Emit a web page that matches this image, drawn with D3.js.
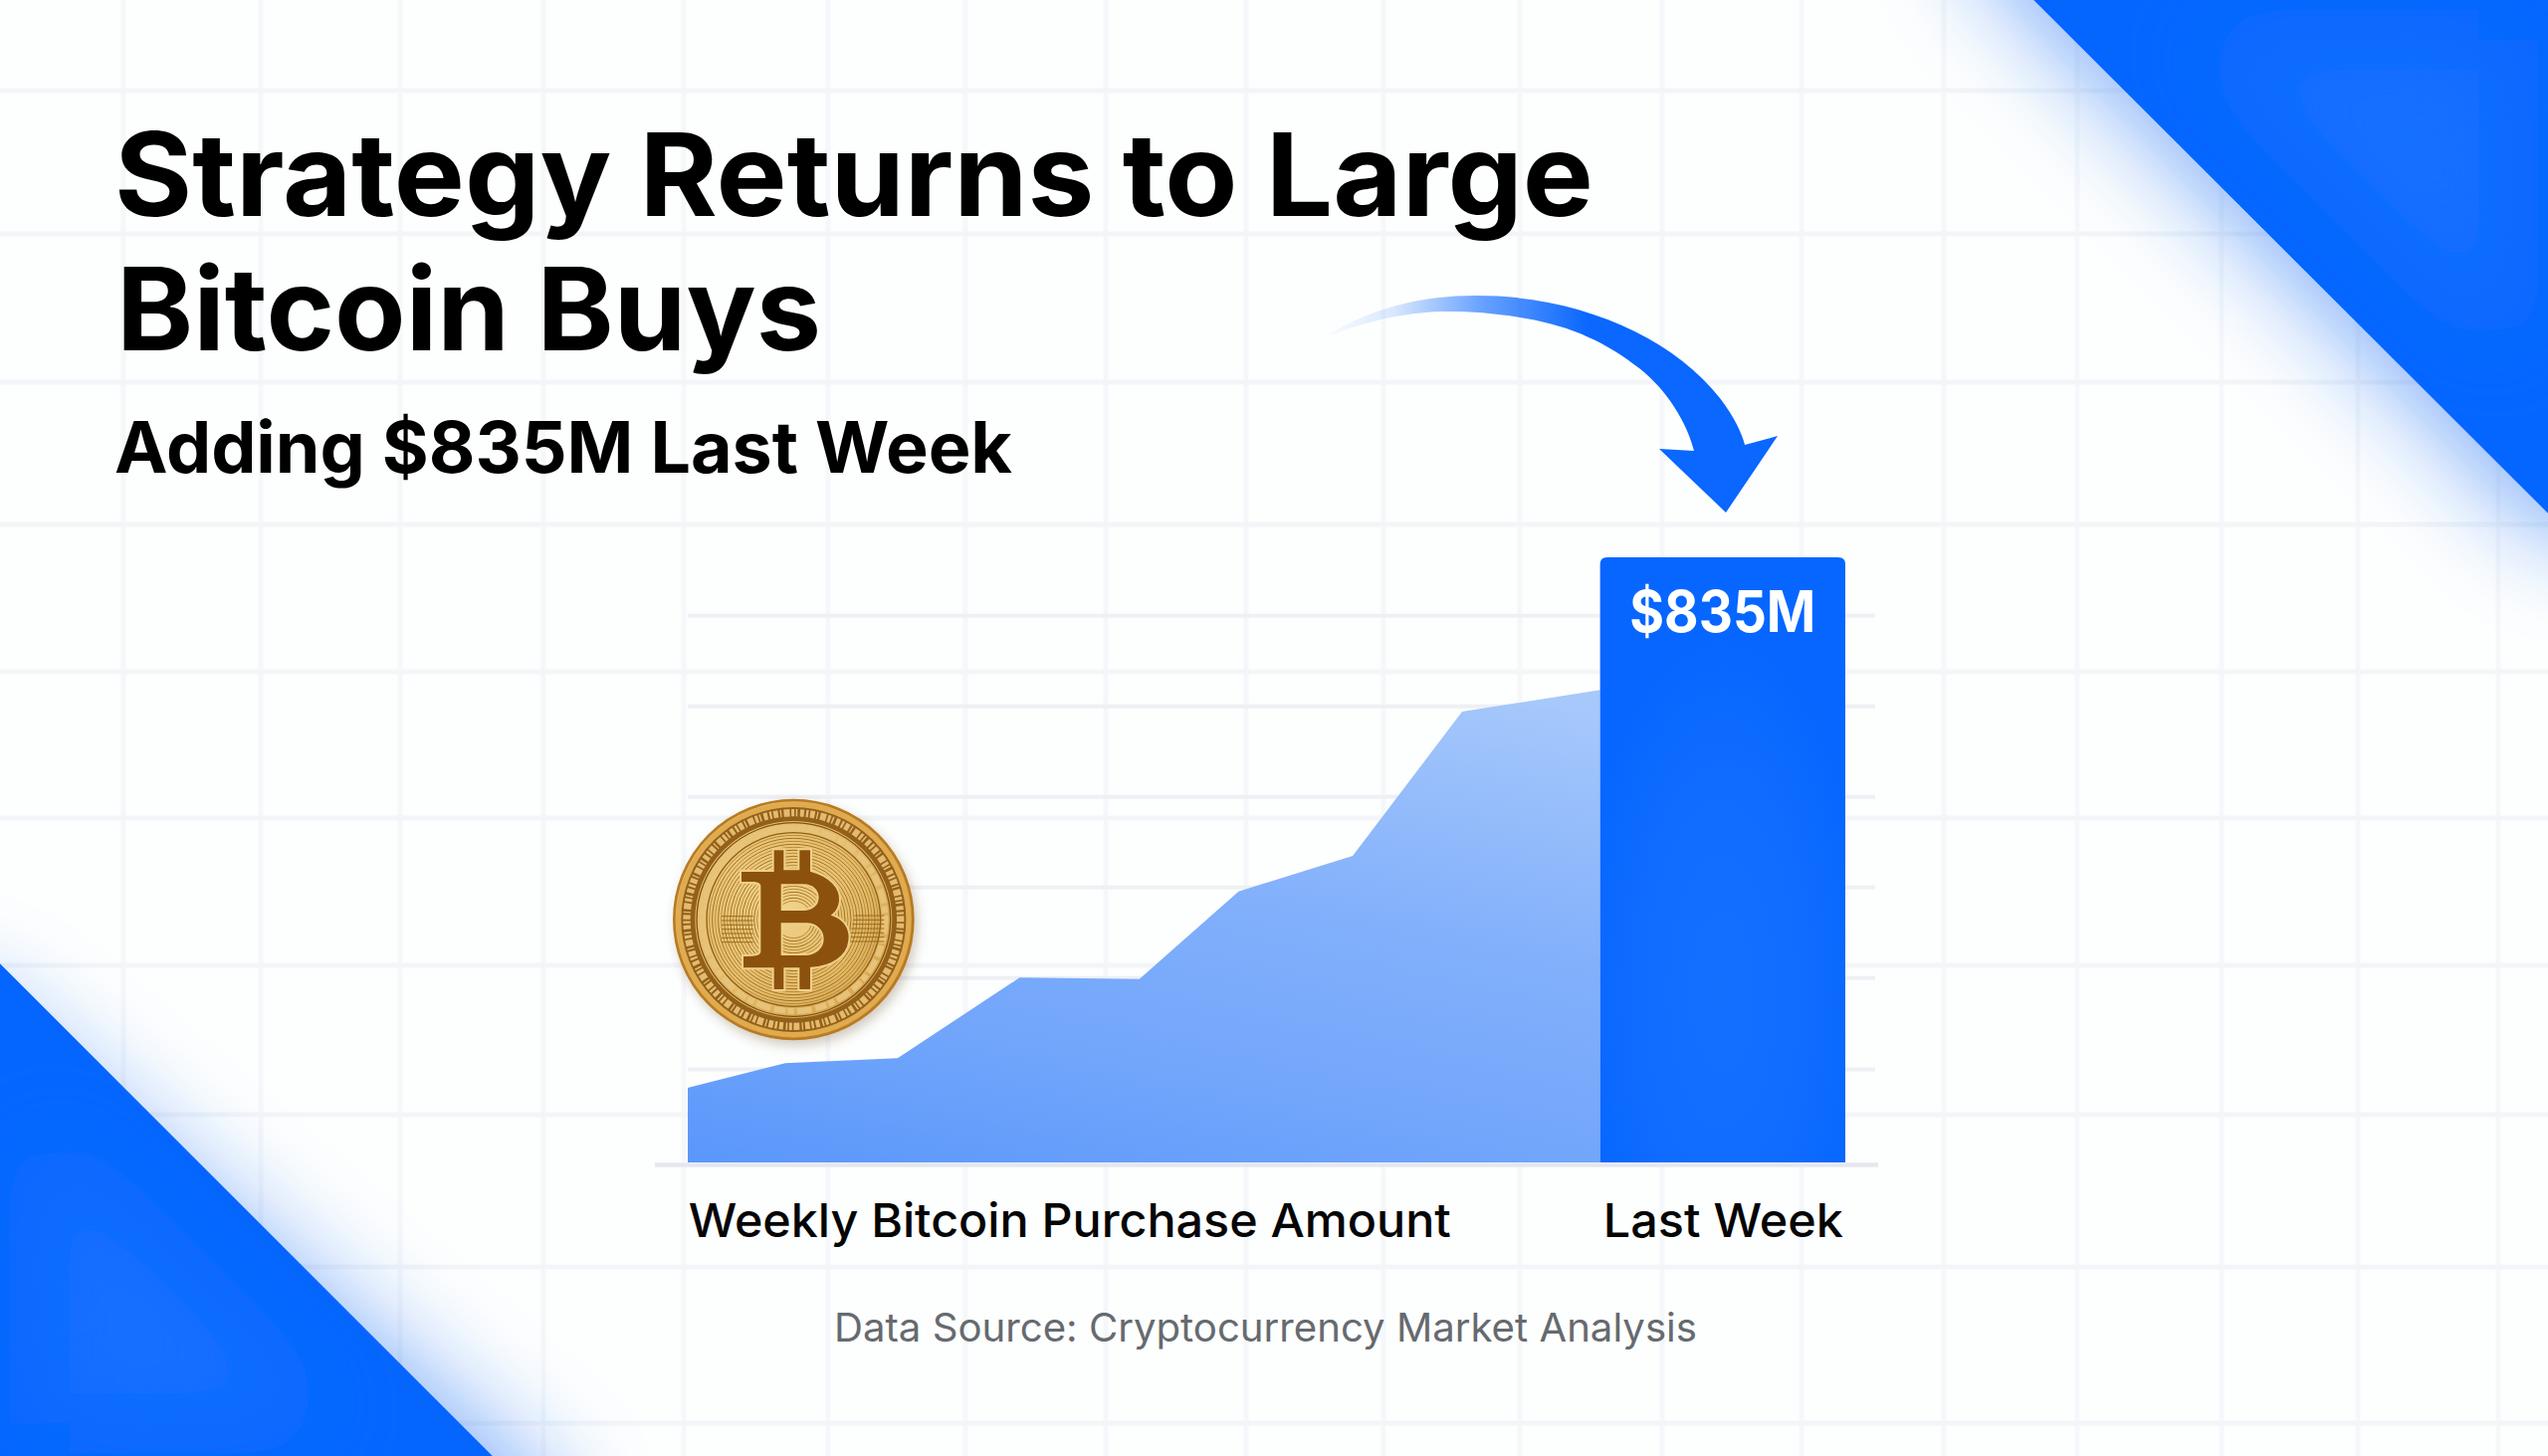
<!DOCTYPE html>
<html><head><meta charset="utf-8">
<script src="https://cdn.jsdelivr.net/npm/d3@7"></script>
<style>html,body{margin:0;padding:0;background:#fdfefe;overflow:hidden}svg{display:block}text{font-family:Inter,"Open Sans",sans-serif}</style>
</head><body><svg id="c" width="2560" height="1463" viewBox="0 0 2560 1463"></svg>
<script>
// ---- data ($M per week) ----
const weekPositions=[0,0.855,1.84,2.91,3.96,4.83,5.83,6.79,8.0];
const weeklyPurchases=[103,137,144,255,253,374,423,622,652];
const lastWeekSpan=[8.0,10.15];
const lastWeekValue=835;
const gridValues=[129,255,380,505,630,755];
const axisTicks=[3.345,9.075];
const axisLabels=["Weekly Bitcoin Purchase Amount","Last Week"];
const titleLines=["Strategy Returns to Large","Bitcoin Buys"];
const subtitle="Adding $835M Last Week";
const barLabel="$835M";
const source="Data Source: Cryptocurrency Market Analysis";
const paperX=[124,262,402,546,687,832,970,1111,1252,1390,1527,1670,1810,1953,2087,2232,2369,2510];
const paperY=[91,235,384,527,675,822,970,1120,1273,1430];

const svg=d3.select("#c"), defs=svg.append("defs");
const x=d3.scaleLinear().domain([0,10.15]).range([691,1854]);
const y=d3.scaleLinear().domain([0,835]).range([1168,560]);

function grad(id,attrs,stops){const g=defs.append("linearGradient").attr("id",id).attr("gradientUnits","userSpaceOnUse");
 Object.entries(attrs).forEach(([k,v])=>g.attr(k,v));
 stops.forEach(s=>g.append("stop").attr("offset",s[0]).attr("stop-color",s[1]).attr("stop-opacity",s[2]===undefined?1:s[2]));}
grad("areaG",{x1:691,y1:1168,x2:821,y2:550},[[0,"#5a97fb"],[.3,"#72a6fb"],[.6,"#82b0fb"],[1,"#a6c8fb"]]);
grad("arrowG",{x1:1325,y1:0,x2:1625,y2:0},[[0,"#0a67ff",0],[.25,"#0a67ff",.15],[.55,"#0a67ff",.62],[.9,"#0a67ff",1],[1,"#0a67ff",1]]);
const rg=defs.append("radialGradient").attr("id","barG").attr("cx",.5).attr("cy",.72).attr("r",.6);
rg.append("stop").attr("offset",0).attr("stop-color","#1370ff");
rg.append("stop").attr("offset",.6).attr("stop-color","#0f6cff");
rg.append("stop").attr("offset",1).attr("stop-color","#0666ff");
const coinG=defs.append("radialGradient").attr("id","coinG").attr("cx",.42).attr("cy",.42).attr("r",.65);
[[0,"#f2d58f"],[.6,"#e4bc6a"],[1,"#c98f34"]].forEach(s=>coinG.append("stop").attr("offset",s[0]).attr("stop-color",s[1]));
const blurU=(id,sd)=>defs.append("filter").attr("id",id).attr("filterUnits","userSpaceOnUse").attr("x",-500).attr("y",-500).attr("width",3560).attr("height",2463).append("feGaussianBlur").attr("stdDeviation",sd);
blurU("glow",50); blurU("inner",45);
const sh=defs.append("filter").attr("id","coinShadow").attr("x","-20%").attr("y","-20%").attr("width","140%").attr("height","140%");
sh.append("feDropShadow").attr("dx",9).attr("dy",16).attr("stdDeviation",16).attr("flood-color","#5a4520").attr("flood-opacity",.28);

// background
svg.append("rect").attr("width",2560).attr("height",1463).attr("fill","#fdfefe");
const paper=svg.append("g");
paper.selectAll("line.v").data(paperX).join("line").attr("class","v").attr("x1",d=>d).attr("x2",d=>d).attr("y1",0).attr("y2",1463).attr("stroke","#f5f7fa").attr("stroke-width",5);
paper.selectAll("line.h").data(paperY).join("line").attr("class","h").attr("y1",d=>d).attr("y2",d=>d).attr("x1",0).attr("x2",2560).attr("stroke","#f3f5f8").attr("stroke-width",5);

// corner triangles with glow
const corners=[{id:"tr",pts:"2043,0 2560,516 2560,0",big:"1985,-400 1985,-40 2560,540 2960,540 2960,-400",inset:"2200,40 2520,360 2520,40"},
               {id:"bl",pts:"0,968 495,1463 0,1463",big:"-400,1000 -20,1000 560,1500 560,1800 -400,1800",inset:"40,1130 340,1430 40,1430"}];
corners.forEach(c=>{
 svg.append("polygon").attr("points",c.big).attr("fill","#1a6ff5").attr("opacity",.55).attr("filter","url(#glow)");
 defs.append("clipPath").attr("id","clip"+c.id).append("polygon").attr("points",c.pts);
 const g=svg.append("g").attr("clip-path","url(#clip"+c.id+")");
 g.append("polygon").attr("points",c.pts).attr("fill","#0566ff");
 g.append("polygon").attr("points",c.inset).attr("fill","#1270ff").attr("filter","url(#inner)");
});

// chart grid
const yAxis=d3.axisLeft(y).tickValues(gridValues).tickSize(-(1884-691)).tickFormat("");
svg.append("g").attr("transform","translate(691,0)").call(yAxis)
  .call(g=>g.select(".domain").remove())
  .call(g=>g.selectAll("line").attr("stroke","#eef0f4").attr("stroke-width",4));

// area
const area=d3.area().x((d,i)=>x(weekPositions[i])).y0(y(0)).y1(d=>y(d));
svg.append("path").datum(weeklyPurchases).attr("d",area).attr("fill","url(#areaG)");

// baseline
svg.append("line").attr("x1",658).attr("x2",1887).attr("y1",1170.5).attr("y2",1170.5).attr("stroke","#e4e8ee").attr("stroke-width",4.5);

// last-week bar
const bx0=x(lastWeekSpan[0]),bx1=x(lastWeekSpan[1]),by=y(lastWeekValue),r=7;
svg.append("path").attr("d",`M${bx0},${y(0)}V${by+r}Q${bx0},${by} ${bx0+r},${by}H${bx1-r}Q${bx1},${by} ${bx1},${by+r}V${y(0)}Z`).attr("fill","url(#barG)");
svg.append("text").attr("x",(bx0+bx1)/2).attr("y",635).attr("text-anchor","middle").attr("fill","#fff")
  .attr("font-size",58).attr("font-weight",700).attr("textLength",187).attr("lengthAdjust","spacingAndGlyphs").text(barLabel);

// x axis labels
const xAxis=d3.axisBottom(x).tickValues(axisTicks).tickSize(0).tickFormat((d,i)=>axisLabels[i]);
svg.append("g").attr("transform","translate(0,1168)").call(xAxis)
  .call(g=>g.select(".domain").remove())
  .call(g=>g.selectAll("text").attr("y",0).attr("dy",75).attr("fill","#050505").attr("font-size",47).attr("font-weight",500)
     .style("font-family","Inter,sans-serif").attr("textLength",(d,i)=>[766,241][i]).attr("lengthAdjust","spacingAndGlyphs"));

// arrow
svg.append("path").attr("d","M1325,342C1375,310 1425,297 1484,297C1585,297 1680,338 1728,400C1743,420 1750,435 1753,447L1786,438L1734,515L1667,451L1702,453C1695,425 1675,392 1647,370C1615,345 1580,328 1533,320C1505,315 1480,313 1455,313C1420,313 1375,320 1325,342Z").attr("fill","url(#arrowG)");

// titles
const tx=svg.append("g").attr("fill","#000");
tx.append("text").attr("x",115).attr("y",217).attr("font-size",116).attr("font-weight",700).attr("textLength",1486).attr("lengthAdjust","spacingAndGlyphs").text(titleLines[0]);
tx.append("text").attr("x",117).attr("y",352).attr("font-size",116).attr("font-weight",700).attr("textLength",708).attr("lengthAdjust","spacingAndGlyphs").text(titleLines[1]);
tx.append("text").attr("x",115).attr("y",475).attr("font-size",71).attr("font-weight",700).attr("textLength",902).attr("lengthAdjust","spacingAndGlyphs").text(subtitle);
svg.append("text").attr("x",838).attr("y",1348).attr("font-size",39).attr("font-weight",400).attr("fill","#666a6f").attr("textLength",867).attr("lengthAdjust","spacingAndGlyphs").text(source);

// coin (illustration, drawn in its own local units)
const coin=svg.append("g").attr("transform","translate(640,760) scale(0.33333)").attr("filter","url(#coinShadow)");
const cx=472,cy=492;
const ring=(rad,stroke,w,dash,fill)=>coin.append("circle").attr("cx",cx).attr("cy",cy).attr("r",rad).attr("fill",fill||"none").attr("stroke",stroke).attr("stroke-width",w).attr("stroke-dasharray",dash||null);
ring(360,"#b97a20",8,null,"url(#coinG)");
ring(346,"#e0ab50",16);
ring(318,"#93601a",42);
ring(322,"#e4bb6e",22,"7 5 14 6 4 7 18 5 9 5 5 8 12 6");
ring(292,"#7f5212",4);
ring(276,"#e7c27a",18,"44 9 20 7 34 12");
ring(262,"#8f6018",4);
d3.range(56,258,9).forEach((rad,i)=>ring(rad,i%2?"#a0701f":"#b98a38",3));
// circuit traces
const traces=coin.append("g").attr("stroke","#9a6a1f").attr("stroke-width",3).attr("fill","none");
d3.range(0,7).forEach(i=>{
  const yy=480+i*13;
  traces.append("path").attr("d",`M${655-i*3},${yy}H745`);
  traces.append("path").attr("d",`M255,${yy+2}H350`);
});
// B
const B="M410 280H445V340H487V280H525V345C580 360 615 395 612 435C610 455 600 470 590 478C625 490 645 520 640 555C635 605 585 635 525 638V705H487V640H445V705H410V640H318V600C345 600 368 600 370 590V390C368 380 345 380 312 380V345H410ZM437 388H500C535 388 545 410 545 425C545 445 530 462 500 462H437ZM437 505H510C545 505 560 530 560 550C560 575 540 597 505 597H437Z";
coin.append("path").attr("d",B).attr("fill","#8c5109").attr("fill-rule","evenodd").attr("stroke","#efd089").attr("stroke-width",6);
</script></body></html>
